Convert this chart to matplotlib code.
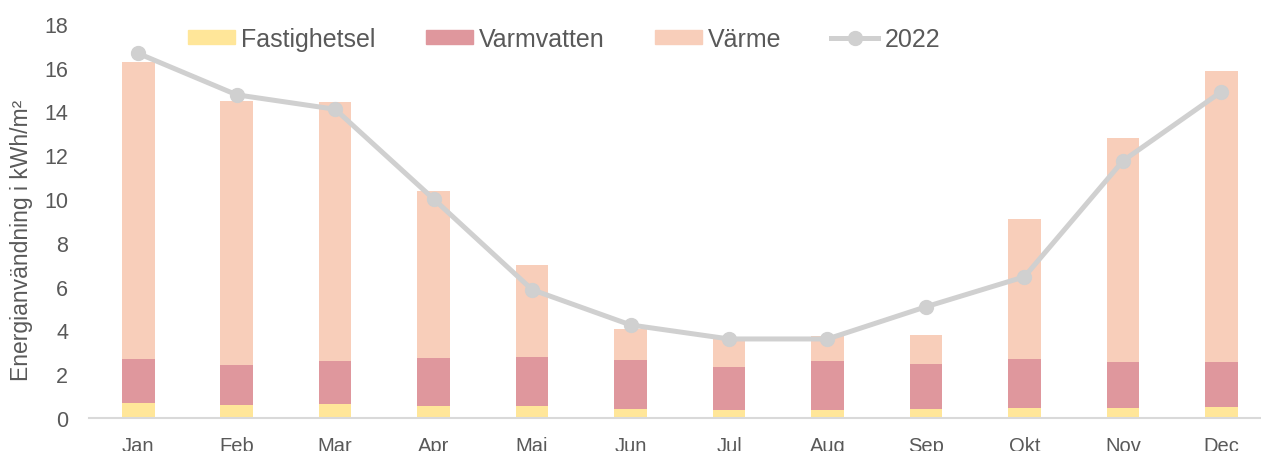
import numpy as np
import matplotlib
matplotlib.use("Agg")
import matplotlib.pyplot as plt
from matplotlib.lines import Line2D
from matplotlib.patches import Patch

months = ["Jan", "Feb", "Mar", "Apr", "Maj", "Jun", "Jul", "Aug", "Sep", "Okt", "Nov", "Dec"]
fastighetsel = [0.67, 0.59, 0.63, 0.56, 0.53, 0.41, 0.37, 0.38, 0.40, 0.44, 0.46, 0.49]
varmvatten = [2.02, 1.82, 1.97, 2.18, 2.27, 2.22, 1.97, 2.21, 2.07, 2.24, 2.10, 2.05]
varme = [13.57, 12.08, 11.81, 7.64, 4.19, 1.45, 1.37, 1.17, 1.32, 6.41, 10.23, 13.29]
line_2022 = [16.65, 14.76, 14.10, 10.00, 5.86, 4.25, 3.61, 3.61, 5.08, 6.45, 11.74, 14.90]

c_fast = "#FFE699"
c_vv = "#DF979D"
c_varme = "#F8CEBA"
c_line = "#D0D0D0"
c_text = "#595959"

plt.rcParams["font.family"] = ["Liberation Sans", "DejaVu Sans"]

fig = plt.figure(figsize=(12.61, 4.52), dpi=100)
ax = fig.add_axes([0.0706, 0.073, 0.937, 0.872])

x = np.arange(len(months))
w = 0.33
fast = np.array(fastighetsel)
vv = np.array(varmvatten)
ax.bar(x, fast, w, color=c_fast, zorder=2)
ax.bar(x, vv, w, bottom=fast, color=c_vv, zorder=2)
ax.bar(x, varme, w, bottom=fast + vv, color=c_varme, zorder=2)
ax.plot(x, line_2022, color=c_line, lw=3.6, marker="o", ms=10, zorder=3)

ax.set_xlim(-0.5, 11.5)
ax.set_ylim(0, 18)
ax.set_yticks(range(0, 19, 2))
ax.set_xticks(x)
ax.set_xticklabels(months)
for s in ["top", "right", "left"]:
    ax.spines[s].set_visible(False)
ax.spines["bottom"].set_color("#D9D9D9")
ax.spines["bottom"].set_linewidth(1.5)
ax.tick_params(axis="both", length=0, colors=c_text)
ax.tick_params(axis="y", pad=15, labelsize=15.5)
ax.tick_params(axis="x", pad=13, labelsize=14.5)
fig.text(22 / 1261, 1 - 240 / 452, "Energianvändning i kWh/m²", rotation=90,
         ha="center", va="center", fontsize=16.5, color=c_text)

handles = [
    Patch(color=c_fast, label="Fastighetsel"),
    Patch(color=c_vv, label="Varmvatten"),
    Patch(color=c_varme, label="Värme"),
    Line2D([], [], color=c_line, lw=3.6, marker="o", ms=10, label="2022"),
]
leg = ax.legend(handles=handles, loc="center", bbox_to_anchor=(0.402, 0.962),
                ncol=4, frameon=False, fontsize=18, handlelength=1.88, handleheight=0.48,
                columnspacing=2.0, handletextpad=0.25, borderpad=0, borderaxespad=0)
for t in leg.get_texts():
    t.set_color(c_text)

fig.savefig("out.png", dpi=100)
